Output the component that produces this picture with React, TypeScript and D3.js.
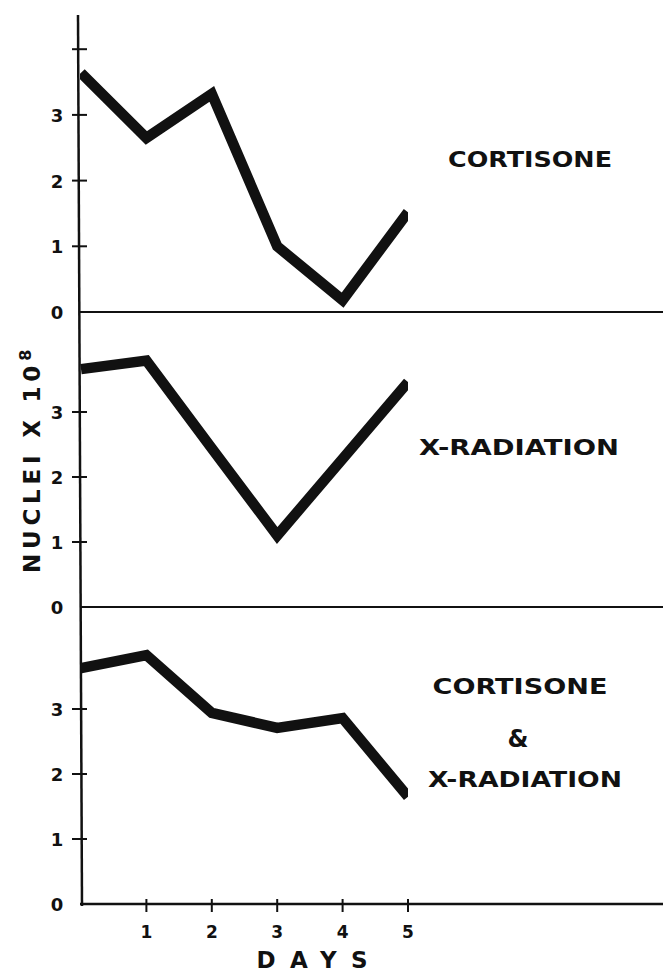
import React from 'react';
import * as d3 from 'd3';

const days = [0, 1, 2, 3, 4, 5];
const cortisone = [3.64, 2.65, 3.32, 1.0, 0.18, 1.52];
const xRadiation = [3.66, 3.79, 2.44, 1.1, 2.28, 3.46];
const combined = [3.63, 3.83, 2.94, 2.71, 2.86, 1.65];

const yTickValues = [0, 1, 2, 3];
const xTickValues = [1, 2, 3, 4, 5];

const panelLabels = [['CORTISONE'], ['X-RADIATION'], ['CORTISONE', '&', 'X-RADIATION']];

const width = 663, height = 973;
const axisX = 80;
const font = '"DejaVu Sans", Verdana, sans-serif';
const ink = '#111';

const x = d3.scaleLinear().domain([0, 5]).range([81, 408]);

// one entry per panel: baseline y, px per unit, label placement
const panels = [
  { series: cortisone, base: 312, unit: 65.7, extraTick: true,
    labels: [{ cx: 530, y: 167, w: 164 }] },
  { series: xRadiation, base: 607, unit: 65, extraTick: false,
    labels: [{ cx: 519, y: 455, w: 200 }] },
  { series: combined, base: 904, unit: 65, extraTick: false,
    labels: [{ cx: 520, y: 694, w: 175 }, { cx: 518, y: 747, w: 0 }, { cx: 525, y: 787, w: 194 }] },
];

const App = () => {
  const line = (y: d3.ScaleLinear<number, number>) =>
    d3.line<number>().x((_, i) => x(days[i])).y((d) => y(d));

  return (
    <svg width={width} height={height} style={{ position: 'absolute', left: 0, top: 0, background: '#fff' }}>
      <defs>
        <clipPath id="plotClip">
          <rect x={axisX} y={0} width={408 - axisX} height={height} />
        </clipPath>
      </defs>

      {/* y axis */}
      <line x1={axisX - 2} y1={15} x2={axisX + 2} y2={906} stroke={ink} strokeWidth={2.5} />

      {panels.map((p, pi) => {
        const y = d3.scaleLinear().domain([0, 4]).range([p.base, p.base - 4 * p.unit]);
        const ticks = p.extraTick ? [...yTickValues, 4] : yTickValues;
        return (
          <g key={pi}>
            <line x1={axisX} x2={width} y1={y(0)} y2={y(0)} stroke={ink} strokeWidth={pi === 2 ? 2.5 : 2} />
            {ticks.filter((t) => t > 0).map((t) => (
              <line key={t} x1={axisX - 8} x2={axisX + 7} y1={y(t)} y2={y(t)} stroke={ink} strokeWidth={2} />
            ))}
            {yTickValues.map((t) => (
              <text key={'l' + t} x={57} y={y(t) + 7} textAnchor="middle" fontFamily={font}
                fontWeight="bold" fontSize={18} fill={ink}>{t}</text>
            ))}
            <path d={line(y)(p.series) || ''} fill="none" stroke={ink} strokeWidth={10.5}
              strokeLinejoin="miter" clipPath="url(#plotClip)" />
            {panelLabels[pi].map((s, li) => {
              const L = p.labels[li];
              return (
                <text key={li} x={L.cx} y={L.y} textAnchor="middle" fontFamily={font} fontWeight="bold"
                  fontSize={L.w ? 21 : 24} fill={ink}
                  {...(L.w ? { textLength: L.w, lengthAdjust: 'spacingAndGlyphs' } : {})}>
                  {s}
                </text>
              );
            })}
          </g>
        );
      })}

      {/* x axis ticks */}
      {xTickValues.map((d) => (
        <g key={d}>
          <line x1={x(d)} x2={x(d)} y1={899} y2={912} stroke={ink} strokeWidth={2} />
          <text x={x(d)} y={938} textAnchor="middle" fontFamily={font} fontWeight="bold" fontSize={17} fill={ink}>{d}</text>
        </g>
      ))}

      <text x={312} y={968} textAnchor="middle" fontFamily={font} fontWeight="bold" fontSize={23} fill={ink}
        textLength={111} lengthAdjust="spacing">DAYS</text>

      <text transform="translate(40,459) rotate(-90)" textAnchor="middle" fontFamily={font} fontWeight="bold"
        fontSize={23} letterSpacing={4.8} fill={ink}>
        NUCLEI X 10<tspan dy={-9} fontSize={16}>8</tspan>
      </text>
    </svg>
  );
};

export default App;
